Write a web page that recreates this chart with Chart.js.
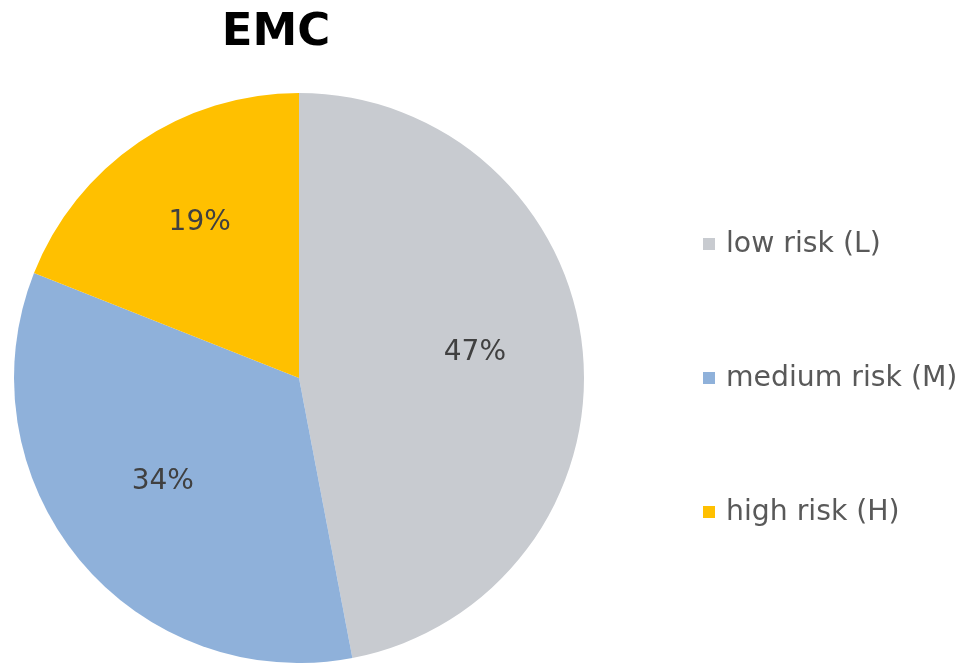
<!DOCTYPE html>
<html>
<head>
<meta charset="utf-8">
<title>EMC</title>
<script src="https://cdn.jsdelivr.net/npm/chart.js"></script>
<style>
  html, body { margin: 0; padding: 0; background: #fff; }
  .wrap {
    position: relative; width: 959px; height: 663px; overflow: hidden;
    font-family: "DejaVu Sans", Verdana, sans-serif;
  }
  #chart-emc { position: absolute; left: 0; top: 0; }
  .title {
    position: absolute; left: 0; top: 7px; width: 552px;
    text-align: center; font-size: 45px; font-weight: bold; line-height: 45px; color: #000;
  }
  .legend { position: absolute; left: 703px; top: 229px; }
  .legend-item {
    display: flex; align-items: center; height: 28px; margin-bottom: 106px;
    font-size: 28.3px; line-height: 28px; color: #595959; white-space: nowrap;
  }
  .legend-box { width: 12px; height: 12px; margin-right: 11px; margin-top: 1px; }
</style>
</head>
<body>
<div class="wrap">
  <canvas id="chart-emc" width="959" height="663"></canvas>
  <div class="title">EMC</div>
  <div class="legend" id="legend-emc"></div>
</div>
<script>
// Risk split for EMC (percent)
const categories = ['low risk (L)', 'medium risk (M)', 'high risk (H)'];
const shares = [47, 34, 19];

// Percent labels inside each slice
const sliceLabels = {
  id: 'sliceLabels',
  afterDatasetsDraw(chart) {
    const ctx = chart.ctx;
    const meta = chart.getDatasetMeta(0);
    const values = chart.data.datasets[0].data;
    ctx.save();
    ctx.font = '28px "DejaVu Sans", Verdana, sans-serif';
    ctx.fillStyle = '#404040';
    ctx.textAlign = 'center';
    ctx.textBaseline = 'middle';
    meta.data.forEach((arc, i) => {
      const p = arc.getProps(['x', 'y', 'startAngle', 'endAngle', 'outerRadius'], true);
      const mid = (p.startAngle + p.endAngle) / 2;
      const r = p.outerRadius * 0.62;
      // labels sit a little above the bisector
      ctx.fillText(values[i] + '%', p.x + Math.cos(mid) * r, p.y + Math.sin(mid) * r - 9);
    });
    ctx.restore();
  }
};

const chart = new Chart(document.getElementById('chart-emc'), {
  type: 'pie',
  data: {
    labels: categories,
    datasets: [{
      data: shares,
      backgroundColor: ['#C8CBD0', '#8FB1DA', '#FFC000'],
      borderWidth: 0
    }]
  },
  options: {
    responsive: false,
    animation: false,
    layout: { padding: { left: 14, right: 375, top: 93, bottom: 0 } },
    plugins: {
      legend: { display: false },
      tooltip: { enabled: false }
    }
  },
  plugins: [sliceLabels]
});

// Legend built from the chart's own labels and colours
const legendEl = document.getElementById('legend-emc');
chart.data.labels.forEach((label, i) => {
  const item = document.createElement('div');
  item.className = 'legend-item';
  const box = document.createElement('span');
  box.className = 'legend-box';
  box.style.background = chart.data.datasets[0].backgroundColor[i];
  const text = document.createElement('span');
  text.textContent = label;
  item.appendChild(box);
  item.appendChild(text);
  legendEl.appendChild(item);
});
</script>
</body>
</html>
